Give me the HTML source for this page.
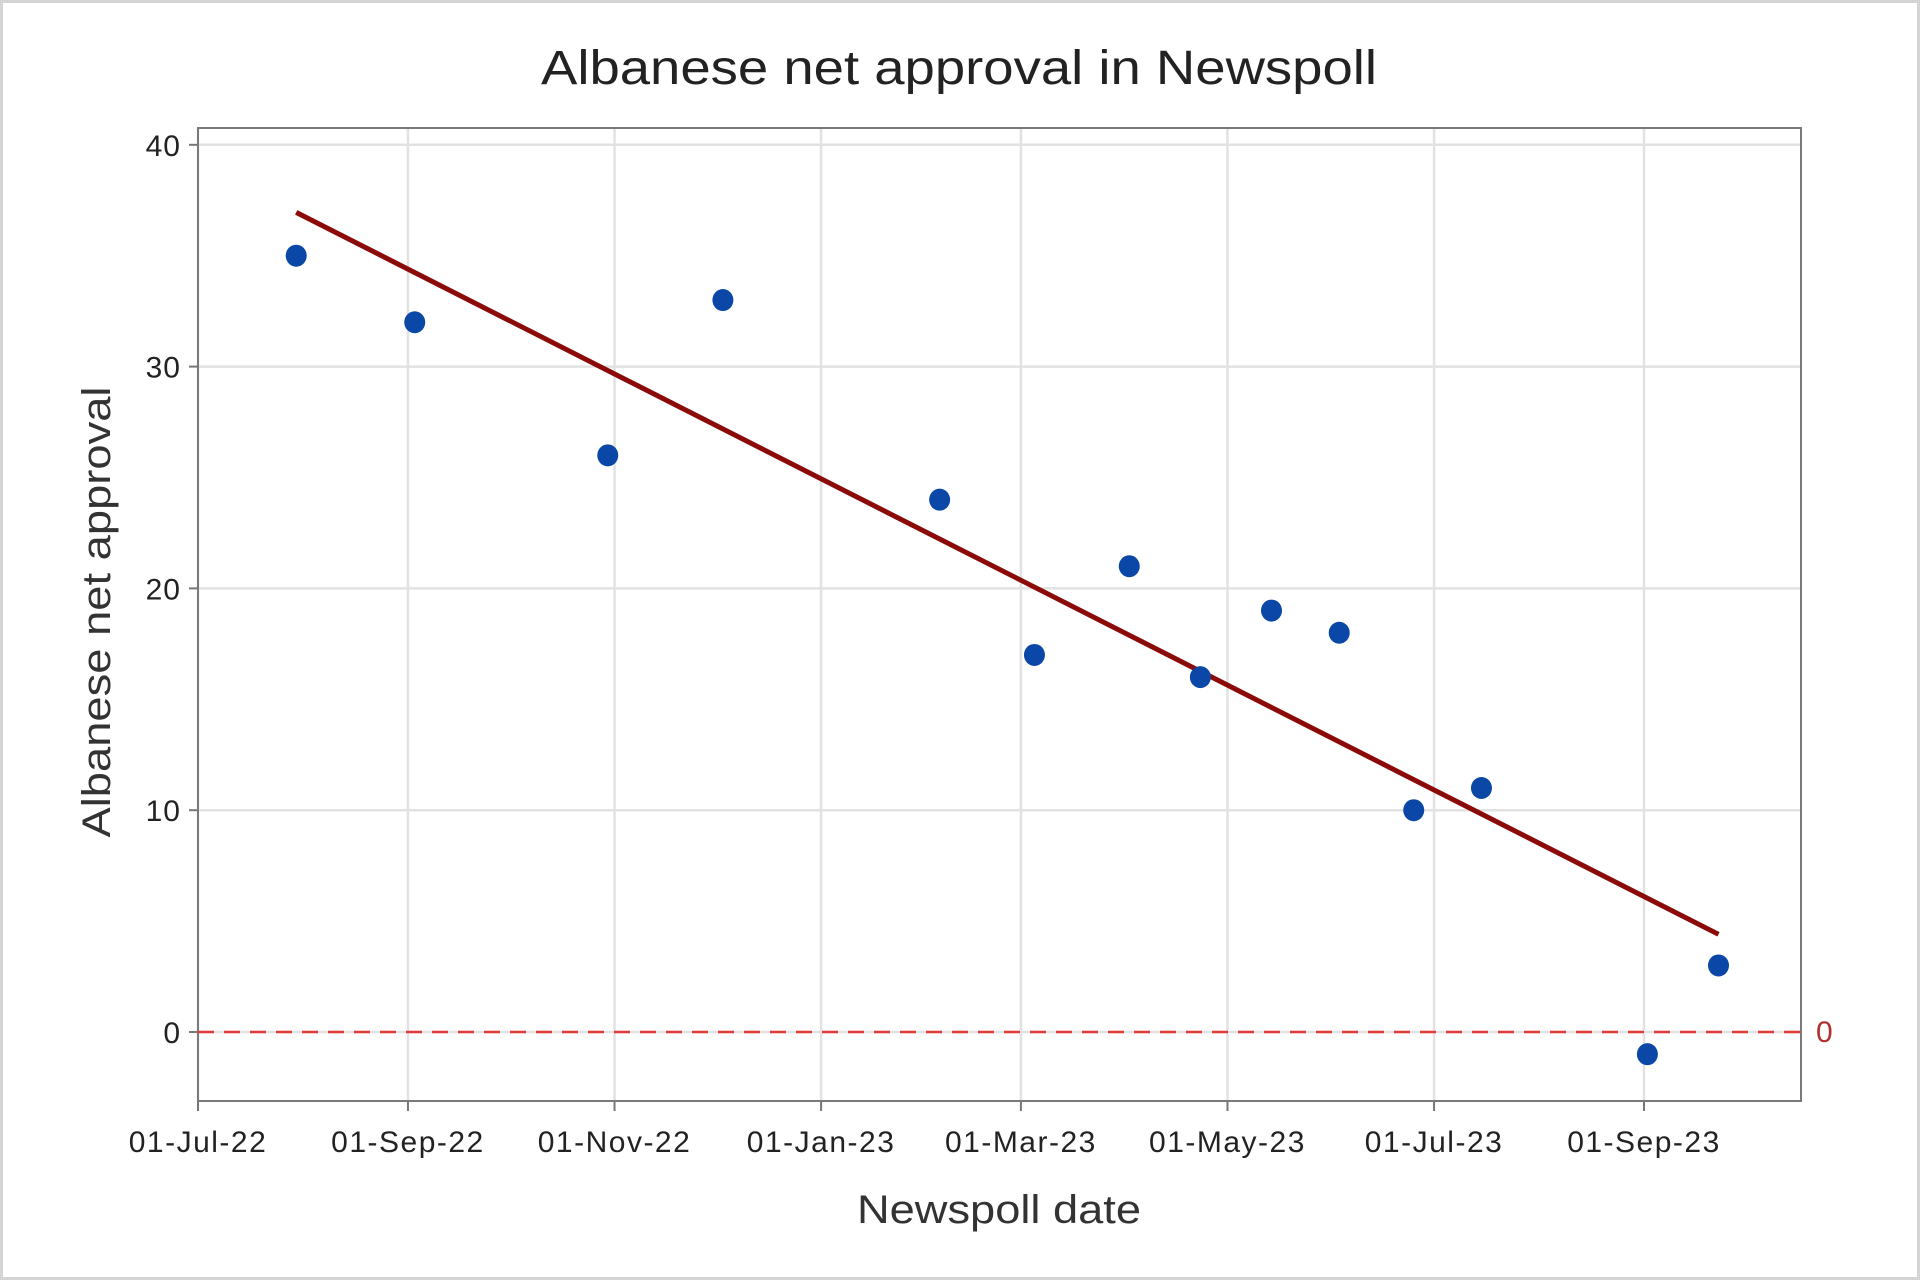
<!DOCTYPE html>
<html><head><meta charset="utf-8"><style>
html,body{margin:0;padding:0;background:#fff;}
svg{display:block;font-family:"Liberation Sans",sans-serif;}
</style></head><body>
<svg id="chart" width="1920" height="1280" viewBox="0 0 1920 1280">
<rect x="1.5" y="1.5" width="1917" height="1277" fill="#fff" stroke="#d4d4d4" stroke-width="3"/>
<text x="959" y="84" font-size="48" fill="#222" text-anchor="middle" textLength="836" lengthAdjust="spacingAndGlyphs">Albanese net approval in Newspoll</text>
<g id="grid"></g>
<g id="axes"></g>
<g id="marks"></g>
<text x="999" y="1223" font-size="40" fill="#333" text-anchor="middle" textLength="284" lengthAdjust="spacingAndGlyphs">Newspoll date</text>
<text transform="translate(110,612) rotate(-90)" font-size="40" fill="#333" text-anchor="middle" textLength="451" lengthAdjust="spacingAndGlyphs">Albanese net approval</text>
</svg>
<script>
const dates = ["2022-07-30","2022-09-03","2022-10-30","2022-12-03","2023-02-05","2023-03-05","2023-04-02","2023-04-23","2023-05-14","2023-06-03","2023-06-25","2023-07-15","2023-09-02","2023-09-23"];
const approval = [35,32,26,33,24,17,21,16,19,18,10,11,-1,3];
const xTickDates = ["2022-07-01","2022-09-01","2022-11-01","2023-01-01","2023-03-01","2023-05-01","2023-07-01","2023-09-01"];
const xTickLabels = ["01-Jul-22","01-Sep-22","01-Nov-22","01-Jan-23","01-Mar-23","01-May-23","01-Jul-23","01-Sep-23"];
const yTicks = [0,10,20,30,40];
const refValue = 0;

const NS="http://www.w3.org/2000/svg";
const L=198,R=1801,T=128,B=1101;
const day0=Date.parse("2022-07-01"), DAY=86400000;
const pxPerDay=(1644.4-198.4)/427;
function xs(d){return L+((Date.parse(d)-day0)/DAY)*pxPerDay;}
function xsDays(n){return L+n*pxPerDay;}
function ys(v){return 1032-v*22.18;}
function mk(tag,attrs,parent){const e=document.createElementNS(NS,tag);for(const k in attrs)e.setAttribute(k,attrs[k]);parent.appendChild(e);return e;}
const grid=document.getElementById('grid'),axes=document.getElementById('axes'),marks=document.getElementById('marks');

yTicks.forEach(v=>{
  const g=mk('line',{x1:L,x2:R,y1:ys(v),y2:ys(v),stroke:'#e2e2e2','stroke-width':2.5},grid);
  
  
  const t=mk('line',{x1:L-9,x2:L,y1:ys(v),y2:ys(v),stroke:'#777','stroke-width':2},axes);
  
  
  const lb=mk('text',{x:181,y:ys(v)+11,'font-size':30,fill:'#222','text-anchor':'end','letter-spacing':1},axes);
  lb.textContent=v;
  
  
});
xTickDates.forEach((d,i)=>{
  const x=xs(d);
  const g=mk('line',{x1:x,x2:x,y1:T,y2:B,stroke:'#e2e2e2','stroke-width':2.5},grid);
  
  
  const t=mk('line',{x1:x,x2:x,y1:B,y2:B+10,stroke:'#777','stroke-width':2},axes);
  
  
  const lb=mk('text',{x:x,y:1152,'font-size':30,fill:'#222','text-anchor':'middle','letter-spacing':1.5},axes);
  lb.textContent=xTickLabels[i];
  
  
});
const frame=mk('rect',{x:L,y:T,width:R-L,height:B-T,fill:'none',stroke:'#7a7a7a','stroke-width':2},axes);



const ref=mk('line',{x1:L,x2:R,y1:ys(refValue),y2:ys(refValue),stroke:'#e03a3a','stroke-width':2.5,'stroke-dasharray':'16 10'},marks);


const refLbl=mk('text',{x:1816,y:ys(refValue)+10,'font-size':30,fill:'#b03030'},marks);
refLbl.textContent=String(refValue);



// regression fit
const dx=dates.map(d=>(Date.parse(d)-day0)/DAY);
const n=dx.length,mx=dx.reduce((a,b)=>a+b)/n,my=approval.reduce((a,b)=>a+b)/n;
let sxy=0,sxx=0;for(let i=0;i<n;i++){sxy+=(dx[i]-mx)*(approval[i]-my);sxx+=(dx[i]-mx)**2;}
const slope=sxy/sxx,icpt=my-slope*mx;
const x0=Math.min(...dx),x1=Math.max(...dx);
const fit=mk('line',{x1:xsDays(x0),y1:ys(icpt+slope*x0),x2:xsDays(x1),y2:ys(icpt+slope*x1),stroke:'#8b0a0a','stroke-width':5},marks);



dates.forEach((d,i)=>{
  const c=mk('ellipse',{cx:xs(d),cy:ys(approval[i]),rx:10.5,ry:11,fill:'#0a47a6'},marks);
  
  
});
</script>
</body></html>
